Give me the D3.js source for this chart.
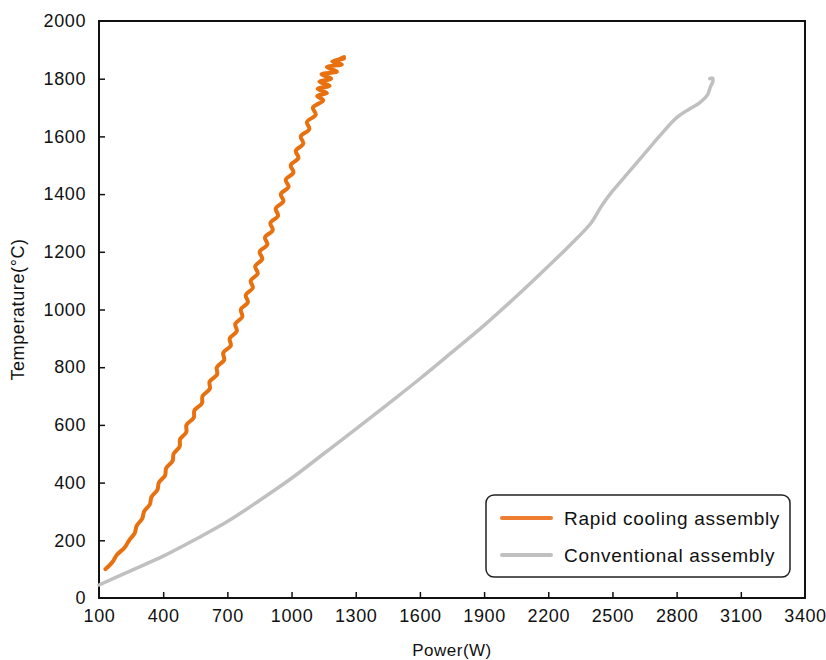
<!DOCTYPE html>
<html>
<head>
<meta charset="utf-8">
<script src="https://cdn.jsdelivr.net/npm/d3@7"></script>
<style>
  body { margin: 0; background: #fff; }
  text { font-family: "Liberation Sans", Arial, sans-serif; fill: #111; }
</style>
</head>
<body>
<div id="chart"></div>
<script>
// Power (W) vs temperature (°C)
const rapidCooling = [
  [130,100],[163,125],[184,150],[220,175],[241,200],[267,225],[276,250],[302,275],
  [311,300],[338,325],[345,350],[373,375],[380,400],[409,425],[414,450],[444,475],
  [449,500],[477,525],[479,550],[508,575],[509,600],[543,625],[546,650],[581,675],
  [584,700],[618,725],[617,750],[652,775],[651,800],[685,825],[681,850],[716,875],
  [711,900],[744,925],[737,950],[770,975],[763,1000],[796,1025],[786,1050],[819,1075],
  [809,1100],[842,1125],[830,1150],[863,1175],[851,1200],[887,1225],[876,1250],[912,1275],
  [901,1300],[937,1325],[926,1350],[962,1375],[950,1400],[986,1425],[973,1450],[1009,1475],
  [996,1500],[1032,1525],[1020,1550],[1055,1575],[1043,1600],[1083,1625],[1072,1650],[1113,1675],
  [1100,1700],[1148,1725],[1120,1740],[1165,1750],[1122,1765],[1178,1775],[1130,1790],[1185,1800],
  [1140,1815],[1212,1825],[1165,1840],[1235,1850],[1190,1860],[1245,1870],[1215,1865],[1245,1875]
];
const conventional = [
  [100,45],[250,95],[400,145],[550,203],[700,265],[850,338],[1000,415],[1150,500],
  [1300,585],[1450,672],[1600,760],[1750,852],[1900,945],[2050,1045],[2200,1150],[2300,1222],
  [2400,1300],[2450,1360],[2500,1410],[2575,1475],[2650,1540],[2725,1605],[2800,1665],[2860,1695],
  [2910,1718],[2945,1745],[2958,1772],[2970,1792],[2968,1802],[2955,1800]
];
const xTicks = [100,400,700,1000,1300,1600,1900,2200,2500,2800,3100,3400];
const yTicks = [0,200,400,600,800,1000,1200,1400,1600,1800,2000];
const seriesNames = ['Rapid cooling assembly', 'Conventional assembly'];
const seriesColors = ['#E8700E', '#C0C0C0'];

const width = 826, height = 660;
const margin = {left: 99, top: 21, right: 21, bottom: 62};
const fontStack = '"Liberation Sans", Arial, sans-serif';

const svg = d3.select('#chart').append('svg')
  .attr('width', width)
  .attr('height', height);

const x = d3.scaleLinear().domain([100, 3400]).range([margin.left, width - margin.right]);
const y = d3.scaleLinear().domain([0, 2000]).range([height - margin.bottom, margin.top]);

// x axis, ticks pointing inward
const xAxis = svg.append('g')
  .attr('transform', `translate(0,${y(0)})`)
  .call(d3.axisBottom(x).tickValues(xTicks).tickFormat(d3.format('d'))
    .tickSizeInner(-6).tickSizeOuter(0).tickPadding(11));
xAxis.select('.domain').remove();
xAxis.selectAll('line').attr('stroke', '#111').attr('stroke-width', 1.5)
  .filter(d => d === 100 || d === 3400).remove();
xAxis.selectAll('text').attr('font-size', 18).style('font-family', fontStack)
  .style('letter-spacing', '0.6px').attr('fill', '#111');

// y axis
const yAxis = svg.append('g')
  .attr('transform', `translate(${x(100)},0)`)
  .call(d3.axisLeft(y).tickValues(yTicks).tickFormat(d3.format('d'))
    .tickSizeInner(-6).tickSizeOuter(0).tickPadding(13));
yAxis.select('.domain').remove();
yAxis.selectAll('line').attr('stroke', '#111').attr('stroke-width', 1.5)
  .filter(d => d === 0 || d === 2000).remove();
yAxis.selectAll('text').attr('font-size', 18).style('font-family', fontStack)
  .style('letter-spacing', '0.6px').attr('fill', '#111');

// frame
svg.append('rect')
  .attr('x', x(100)).attr('y', y(2000))
  .attr('width', x(3400) - x(100)).attr('height', y(0) - y(2000))
  .attr('fill', 'none').attr('stroke', '#111').attr('stroke-width', 2);

const line = d3.line().x(d => x(d[0])).y(d => y(d[1])).curve(d3.curveCatmullRom.alpha(0.5));

svg.append('path').datum(conventional)
  .attr('d', line)
  .attr('fill', 'none').attr('stroke', seriesColors[1]).attr('stroke-width', 3.5)
  .attr('stroke-linejoin', 'round').attr('stroke-linecap', 'round');

svg.append('path').datum(rapidCooling)
  .attr('d', line)
  .attr('fill', 'none').attr('stroke', seriesColors[0]).attr('stroke-width', 4)
  .attr('stroke-linejoin', 'round').attr('stroke-linecap', 'round');

// axis titles
svg.append('text')
  .attr('x', (x(100) + x(3400)) / 2).attr('y', 656)
  .attr('text-anchor', 'middle').attr('font-size', 17)
  .style('letter-spacing', '0.5px')
  .text('Power(W)');
svg.append('text')
  .attr('transform', `translate(24,${(y(0) + y(2000)) / 2}) rotate(-90)`)
  .attr('text-anchor', 'middle').attr('font-size', 18)
  .style('letter-spacing', '0.6px')
  .text('Temperature(°C)');

// legend
const legend = svg.append('g').attr('transform', 'translate(486,495)');
legend.append('rect')
  .attr('width', 304).attr('height', 82).attr('rx', 8)
  .attr('fill', '#fff').attr('stroke', '#222').attr('stroke-width', 1.5);
seriesNames.forEach((name, i) => {
  const ly = 23 + i * 37;
  legend.append('line')
    .attr('x1', 16).attr('x2', 65).attr('y1', ly).attr('y2', ly)
    .attr('stroke', i === 0 ? '#EE7D31' : seriesColors[1]).attr('stroke-width', 4)
    .attr('stroke-linecap', 'round');
  legend.append('text')
    .attr('x', 78).attr('y', ly).attr('dy', '0.35em')
    .attr('font-size', 19)
    .style('letter-spacing', '0.7px')
    .text(name);
});
</script>
</body>
</html>
